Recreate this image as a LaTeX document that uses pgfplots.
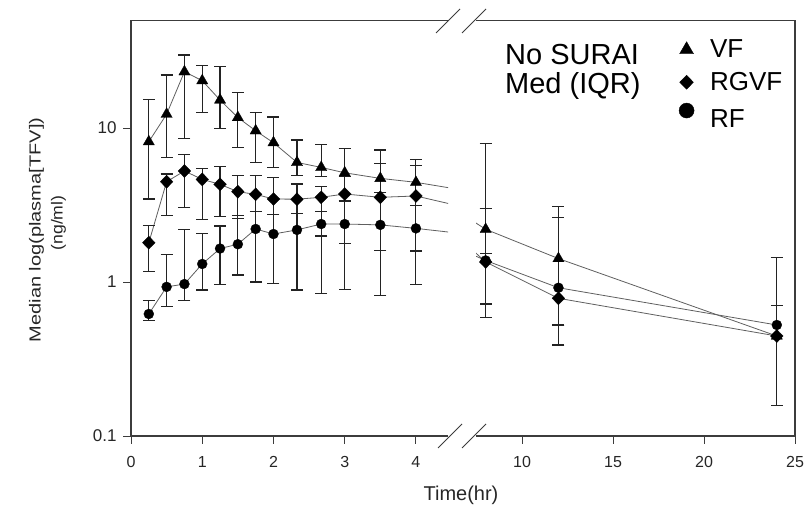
\documentclass[border=0pt]{standalone}
\usepackage{fontspec}
\setmainfont{Liberation Sans}
\usepackage{pgfplots}
\usepackage{pgfplotstable}
\pgfplotsset{compat=1.18}
\definecolor{framec}{RGB}{60,60,60}
\definecolor{lnc}{RGB}{95,95,95}
\definecolor{ebc}{RGB}{35,35,35}

\pgfplotstableread{
t m lo hi
0.25 8.15 3.46 15.3
0.5 12.3 6.44 22.1
0.75 23.2 8.56 29.8
1 20.3 12.6 25.4
1.25 15.2 9.96 25.0
1.5 11.7 7.45 17.0
1.75 9.6 5.95 12.6
2 8.03 5.52 11.8
2.33 5.98 4.95 8.36
2.67 5.55 4.83 7.85
3 5.12 3.36 7.38
3.5 4.71 3.82 7.2
4 4.44 3.16 6.25
8 2.20 1.53 7.9
12 1.42 0.526 3.11
24 0.446 0.157 1.45
}\VF

\pgfplotstableread{
t m lo hi
0.25 1.80 1.17 2.32
0.5 4.48 2.72 5.03
0.75 5.26 3.04 6.7
1 4.64 2.53 5.47
1.25 4.31 2.65 5.61
1.5 3.86 2.59 4.95
1.75 3.71 2.86 4.95
2 3.46 2.75 4.78
2.33 3.45 2.79 4.33
2.67 3.55 1.99 4.16
3 3.73 1.78 4.85
3.5 3.55 1.61 5.9
4 3.62 1.59 5.69
8 1.35 0.59 3.0
12 0.784 0.39 2.63
24 0.446 0.157 1.45
}\RGVF

\pgfplotstableread{
t m lo hi
0.25 0.62 0.566 0.756
0.5 0.93 0.69 1.50
0.75 0.97 0.76 2.18
1 1.31 0.887 2.07
1.25 1.65 0.97 2.31
1.5 1.76 1.11 2.72
1.75 2.21 1.0 2.86
2 2.05 0.98 2.75
2.33 2.18 0.887 2.79
2.67 2.38 0.845 2.86
3 2.38 0.897 3.36
3.5 2.35 0.815 3.82
4 2.23 0.966 3.16
8 1.38 0.72 3.0
12 0.918 0.526 2.63
24 0.526 0.157 0.70
}\RF

\newcommand{\plotone}[4]{%
  \addplot[lnc, line width=0.8bp, forget plot, mark=#2, mark size=#3,
    mark options={solid, fill=black, draw=black, line width=0.3bp, #4},
    error bars/.cd, y dir=both, y explicit,
    error bar style={ebc, line width=1.1bp},
    error mark options={ebc, line width=1.1bp, mark size=6bp, rotate=90}]
    table[x=t, y=m, y error plus expr=\thisrow{hi}-\thisrow{m}, y error minus expr=\thisrow{m}-\thisrow{lo}] {#1};
}
\newcommand{\plotall}{%
  \plotone{\VF}{triangle*}{6.5bp}{}
  \plotone{\RGVF}{diamond*}{6.5bp}{xscale=1.3}
  \plotone{\RF}{*}{5bp}{}
}

\begin{document}
\begin{tikzpicture}
\useasboundingbox (0,0) rectangle (812bp,508bp);
\begin{axis}[name=L, at={(131bp,72bp)}, anchor=south west,
  scale only axis, width=317bp, height=415.6bp,
  ymode=log, ymin=0.1, ymax=50,
  axis line style={draw=none}, tick align=outside, major tick length=8bp,
  yminorticks=false, xminorticks=false,
  tick style={framec, line width=1bp},
  xticklabel style={font=\fontsize{16bp}{16bp}\selectfont, text=black!85, yshift=-9bp},
  yticklabel style={font=\fontsize{17bp}{17bp}\selectfont, text=black!85, xshift=-3bp},
  tick pos=left,
  xmin=0, xmax=4.45, xtick={0,1,2,3,4}, xticklabels={0,1,2,3,4},
  ytick={0.1,1,10}, yticklabels={0.1,1,10}]
  \plotall
\end{axis}
\begin{axis}[name=R, at={(476bp,72bp)}, anchor=south west,
  scale only axis, width=319bp, height=415.6bp,
  ymode=log, ymin=0.1, ymax=50,
  axis line style={draw=none}, tick align=outside, major tick length=8bp,
  yminorticks=false, xminorticks=false,
  tick style={framec, line width=1bp},
  xticklabel style={font=\fontsize{16bp}{16bp}\selectfont, text=black!85, yshift=-9bp},
  tick pos=left,
  xmin=7.47, xmax=25, xtick={10,15,20,25}, xticklabels={10,15,20,25},
  ytick=\empty,
  legend style={at={(axis description cs:0.636,0.958)}, anchor=north west,
    draw=none, fill=none, inner sep=0pt,
    font=\fontsize{26bp}{26bp}\selectfont, row sep=9bp,
    /tikz/every odd column/.append style={column sep=14bp}},
  legend cell align=left]
  \plotall
  \addlegendimage{only marks, mark=triangle*, mark size=8bp, black}
  \addlegendentry{VF}
  \addlegendimage{only marks, mark=diamond*, mark size=7bp, black, mark options={xscale=1.3}}
  \addlegendentry{RGVF}
  \addlegendimage{only marks, mark=*, mark size=7.5bp, black, mark options={yshift=9bp}}
  \addlegendentry{RF}
\end{axis}
\draw[framec, line width=1.3bp] (L.south east) -- (L.south west) -- (L.north west) -- (L.north east);
\draw[framec, line width=1.3bp] (R.south west) -- (R.south east) -- (R.north east) -- (R.north west);
\draw[framec, line width=1bp] (438bp,60bp) -- (462bp,84bp) (462bp,60bp) -- (486bp,84bp);
\draw[framec, line width=1bp] (436bp,475bp) -- (460bp,499bp) (462bp,475bp) -- (486bp,499bp);
\node[anchor=base west, inner sep=0pt, font=\fontsize{29bp}{29bp}\selectfont] at (505bp,443bp) {No SURAI};
\node[anchor=base west, inner sep=0pt, font=\fontsize{29bp}{29bp}\selectfont] at (505bp,414bp) {Med (IQR)};
\node[anchor=base, inner sep=0pt, font=\fontsize{20bp}{20bp}\selectfont, text=black!85] at (461bp,8bp) {Time(hr)};
\node[rotate=90, font=\fontsize{16bp}{16bp}\selectfont, text=black!85] at (36.5bp,278bp) {\scalebox{1.25}[1]{Median log(plasma[TFV])}};
\node[rotate=90, font=\fontsize{16bp}{16bp}\selectfont, text=black!85] at (58.5bp,285bp) {\scalebox{1.1}[1]{(ng/ml)}};
\end{tikzpicture}
\end{document}
